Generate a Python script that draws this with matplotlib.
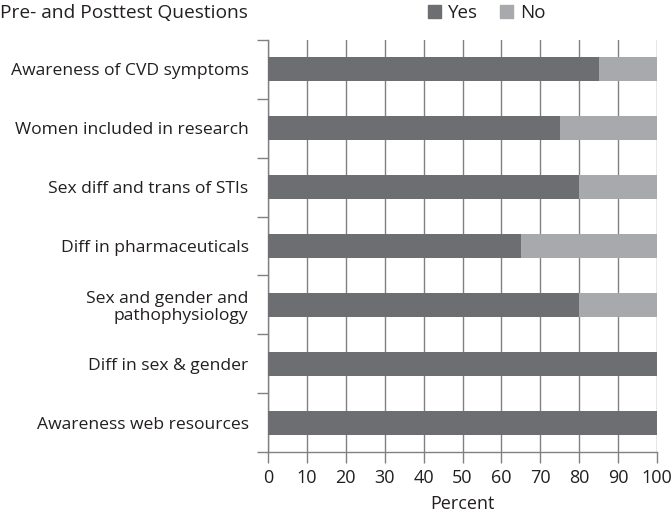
import numpy as np
import matplotlib.pyplot as plt
from matplotlib.patches import Patch

plt.rcParams['font.family'] = ['Open Sans', 'DejaVu Sans']

# data
questions = ["Awareness of CVD symptoms", "Women included in research",
             "Sex diff and trans of STIs", "Diff in pharmaceuticals",
             "Sex and gender and\npathophysiology", "Diff in sex & gender",
             "Awareness web resources"]
yes = [85, 75, 80, 65, 80, 100, 100]
no = [15, 25, 20, 35, 20, 0, 0]
xticks = [0, 10, 20, 30, 40, 50, 60, 70, 80, 90, 100]

c_yes = "#6d6e71"
c_no = "#a7a9ac"
c_grid = "#808080"
c_text = "#231f20"

fig = plt.figure(figsize=(6.72, 5.15), dpi=100)
ax = fig.add_axes([268/672, 1-452/515, (657-268)/672, (452-40)/515])

y = np.arange(len(questions))
ax.barh(y, yes, height=0.41, color=c_yes, zorder=3)
ax.barh(y, no, left=yes, height=0.41, color=c_no, zorder=3)

ax.set_xlim(0, 100)
ax.set_ylim(len(questions) - 0.5, -0.5)
ax.set_xticks(xticks)
ax.set_xticklabels([str(t) for t in xticks], fontsize=13, color=c_text)
ax.xaxis.grid(True, color=c_grid, linewidth=1, zorder=0)

# category labels without ticks, ticks at boundaries
ax.set_yticks(y)
ax.set_yticklabels(questions, fontsize=12.6, color=c_text, ha='right',
                   multialignment='right', linespacing=1.1)
ax.tick_params(axis='y', length=0, pad=14)
ax.set_yticks(np.arange(len(questions) + 1) - 0.5, minor=True)
ax.tick_params(axis='y', which='minor', length=8, color=c_grid, width=1)
ax.tick_params(axis='x', length=8, color=c_grid, width=1, pad=4)

for s in ['top', 'right']:
    ax.spines[s].set_visible(False)
for s in ['left', 'bottom']:
    ax.spines[s].set_color(c_grid)
    ax.spines[s].set_linewidth(1)

ax.set_xlabel("Percent", fontsize=13, color=c_text, labelpad=6)

fig.text(0.0, 1-13/515, "Pre- and Posttest Questions", fontsize=13.8,
         color=c_text, va='center', ha='left')

handles = [Patch(color=c_yes, label="Yes"), Patch(color=c_no, label="No")]
fig.legend(handles=handles, loc='center left', bbox_to_anchor=(428/672, 1-13/515),
           ncol=2, frameon=False, fontsize=13.5, handlelength=0.7, handleheight=0.7,
           handletextpad=0.35, columnspacing=1.2, borderaxespad=0, borderpad=0,
           labelcolor=c_text)

fig.savefig("out.png", dpi=100)
